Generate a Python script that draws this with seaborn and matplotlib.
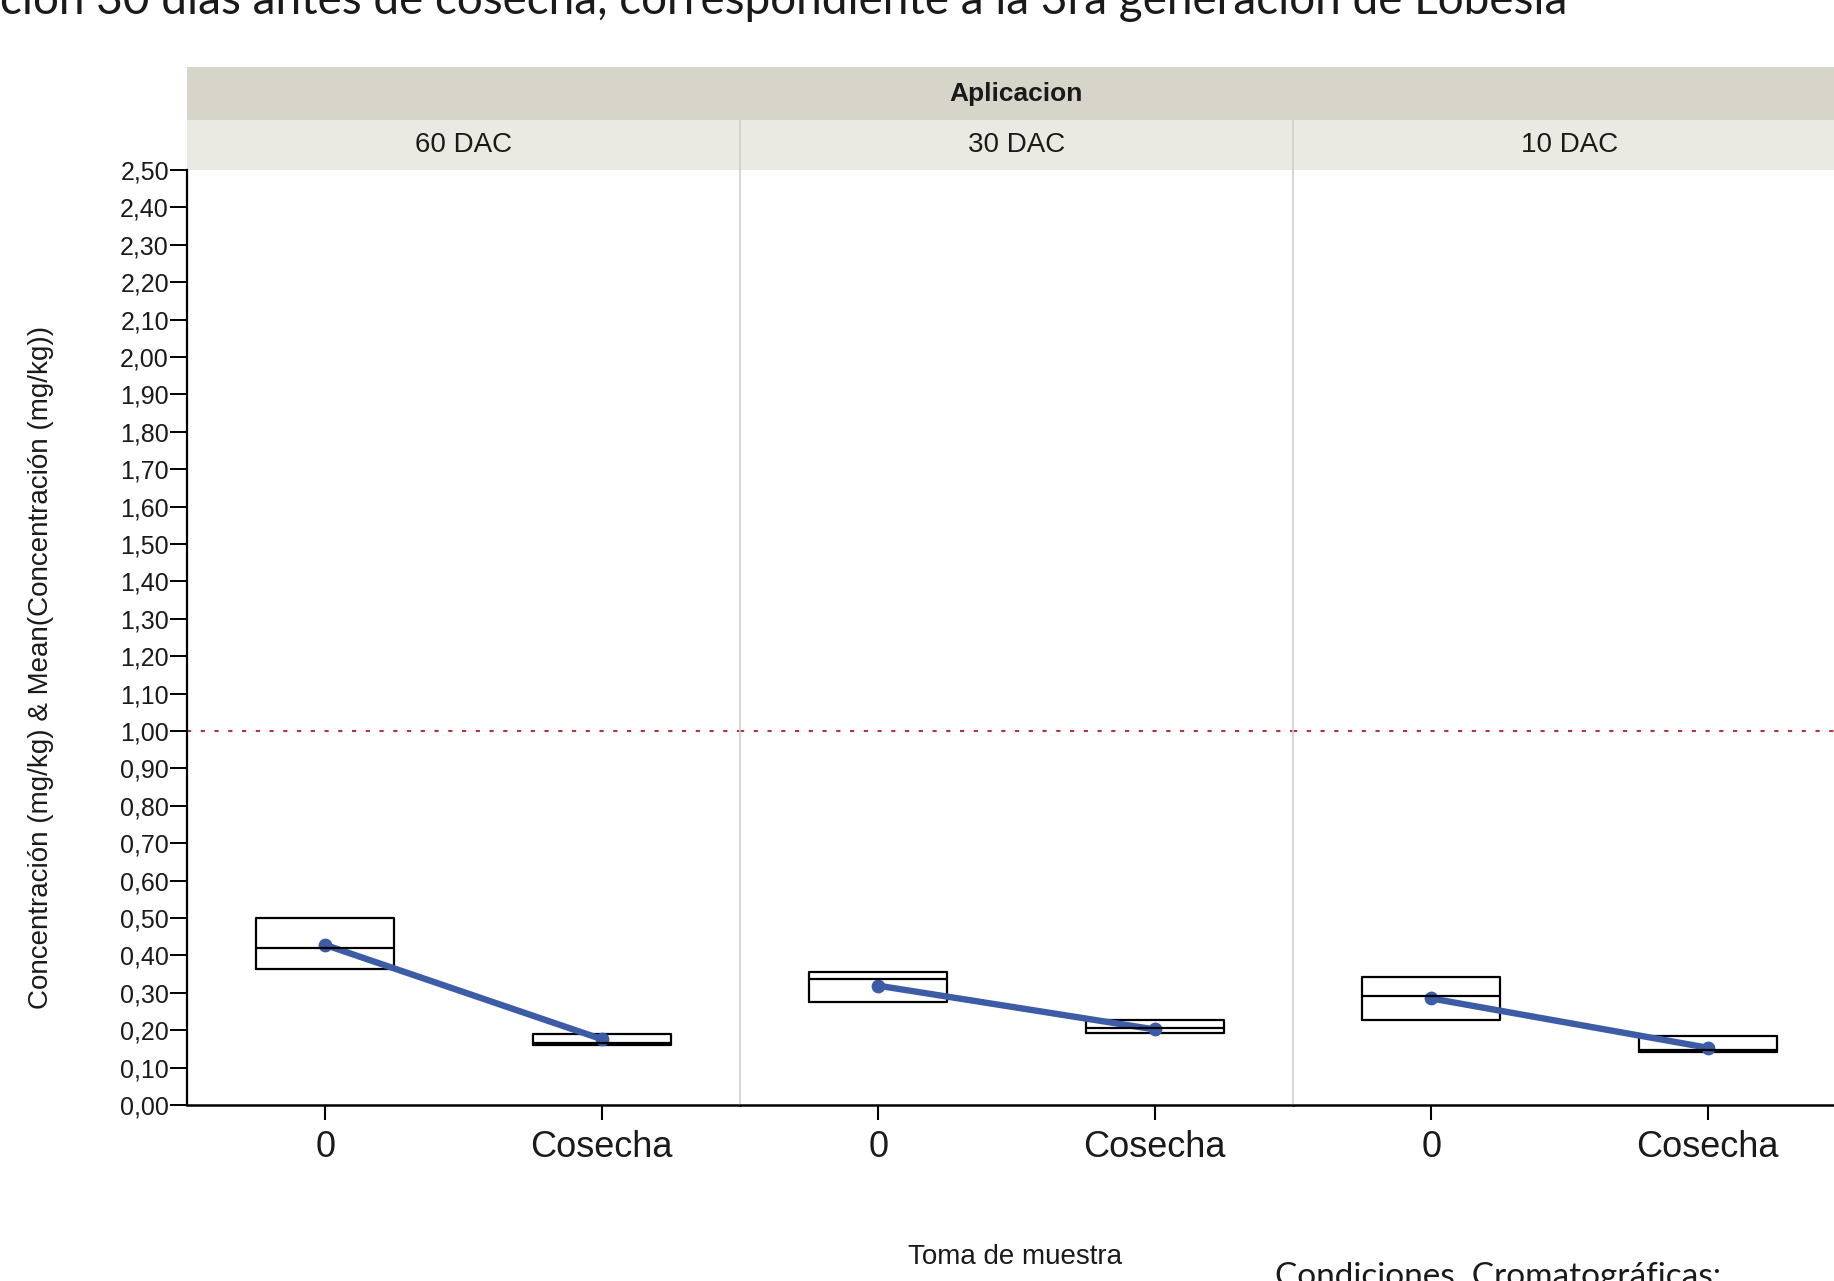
import numpy as np
import pandas as pd
import matplotlib
matplotlib.use('Agg')
import matplotlib.pyplot as plt
from matplotlib.ticker import FuncFormatter, MultipleLocator
import seaborn as sns

# values (mg/kg)
aplicaciones = ["60 DAC", "30 DAC", "10 DAC"]
tomas = ["0", "Cosecha"]
# one entry per aplicacion, for toma "0" and "Cosecha"
q1_0 = [0.363, 0.276, 0.227]
med_0 = [0.419, 0.336, 0.291]
q3_0 = [0.499, 0.355, 0.341]
media_0 = [0.428, 0.319, 0.285]
q1_cos = [0.160, 0.192, 0.143]
med_cos = [0.166, 0.205, 0.147]
q3_cos = [0.190, 0.226, 0.184]
media_cos = [0.176, 0.202, 0.153]
limite = 1.0

# long tables for seaborn: 5 points per box give exactly q1 / median / q3
rows_box = []
rows_mean = []
for i, ap in enumerate(aplicaciones):
    for toma, q1, med, q3, m in [("0", q1_0[i], med_0[i], q3_0[i], media_0[i]),
                                 ("Cosecha", q1_cos[i], med_cos[i], q3_cos[i], media_cos[i])]:
        for v in [q1, q1, med, q3, q3]:
            rows_box.append([ap, toma, v])
        rows_mean.append([ap, toma, m])
df_box = pd.DataFrame(rows_box, columns=["Aplicacion", "Toma", "Conc"])
df_mean = pd.DataFrame(rows_mean, columns=["Aplicacion", "Toma", "Media"])

sns.set_style("white")
plt.rcParams['font.family'] = ['Liberation Sans', 'DejaVu Sans']

W, H = 1834, 1281
fig = plt.figure(figsize=(W / 100, H / 100), dpi=100)


def rect(x0, y0, w, h):
    return [x0 / W, 1 - (y0 + h) / H, w / W, h / H]


panel_w = 553
plot_top, plot_h = 170, 935
blue = "#3d5ca6"
coma = FuncFormatter(lambda v, p: f"{v:.2f}".replace('.', ','))

# top strip "Aplicacion"
sax = fig.add_axes(rect(187, 67, panel_w * 3, 53))
sax.set_facecolor("#d7d5c9")
sax.set_xticks([]); sax.set_yticks([])
for s in sax.spines.values():
    s.set_visible(False)
sax.text(0.5, 0.5, "Aplicacion", transform=sax.transAxes, ha='center', va='center',
         fontsize=19, fontweight='bold', color='#1a1a1a')

for i, ap in enumerate(aplicaciones):
    x0 = 187 + panel_w * i
    # lower strip
    st = fig.add_axes(rect(x0, 120, panel_w, 50))
    st.set_facecolor("#ebeae2")
    st.set_xticks([]); st.set_yticks([])
    for s in st.spines.values():
        s.set_visible(False)
    if i > 0:
        st.spines['left'].set_visible(True)
        st.spines['left'].set_color('#cfcfcf')
        st.spines['left'].set_linewidth(1.2)
    st.text(0.5, 0.5, ap, transform=st.transAxes, ha='center', va='center',
            fontsize=20, color='#1a1a1a')

    ax = fig.add_axes(rect(x0, plot_top, panel_w, plot_h))
    sub_b = df_box[df_box["Aplicacion"] == ap]
    sub_m = df_mean[df_mean["Aplicacion"] == ap]
    sns.boxplot(data=sub_b, x="Toma", y="Conc", order=tomas, width=0.5, fill=False,
                color='black', linewidth=1.6, showcaps=False, showfliers=False,
                whiskerprops={'linewidth': 0}, ax=ax)
    sns.pointplot(data=sub_m, x="Toma", y="Media", order=tomas, color=blue,
                  markers='o', markersize=6.5, linewidth=4.6, errorbar=None, ax=ax)
    ax.axhline(limite, color='#b5333f', lw=1.5, linestyle=(0, (2, 4.6)), zorder=1)

    ax.set_xlim(-0.5, 1.5)
    ax.set_ylim(0, 2.5)
    ax.set_xlabel("")
    ax.set_ylabel("")
    ax.spines['top'].set_visible(False)
    ax.spines['right'].set_visible(False)
    ax.spines['bottom'].set_color('black')
    ax.spines['bottom'].set_linewidth(1.8)
    ax.tick_params(axis='x', direction='out', length=11, width=1.5, color='black',
                   labelsize=26, pad=7, bottom=True)
    ax.yaxis.set_major_locator(MultipleLocator(0.1))
    if i == 0:
        ax.spines['left'].set_color('black')
        ax.spines['left'].set_linewidth(1.6)
        ax.yaxis.set_major_formatter(coma)
        ax.tick_params(axis='y', direction='out', length=12, width=1.4, color='black',
                       labelsize=18, pad=1, left=True)
    else:
        ax.spines['left'].set_color('#cfcfcf')
        ax.spines['left'].set_linewidth(1.2)
        ax.tick_params(axis='y', left=False, labelleft=False)
    for lab in ax.get_xticklabels() + ax.get_yticklabels():
        lab.set_color('#1a1a1a')

fig.text(41 / W, 1 - 667 / H, "Concentración (mg/kg) & Mean(Concentración (mg/kg))",
         rotation=90, ha='center', va='center', fontsize=20, color='#1a1a1a')
fig.text(1015 / W, 1 - 1257 / H, "Toma de muestra", ha='center', va='center',
         fontsize=20, color='#1a1a1a')
fig.text(1275 / W, 1 - 1262 / H, "Condiciones  Cromatográficas:", ha='left', va='top',
         fontsize=24, color='#1a1a1a', family=['Lato', 'DejaVu Sans'])
fig.text(0, 1 - 14 / H,
         "ción 30 días antes de cosecha, correspondiente a la 3ra generación de Lobesia",
         ha='left', va='baseline', fontsize=33, color='#1a1a1a',
         family=['Lato', 'DejaVu Sans'])

fig.savefig("out.png", dpi=100)
